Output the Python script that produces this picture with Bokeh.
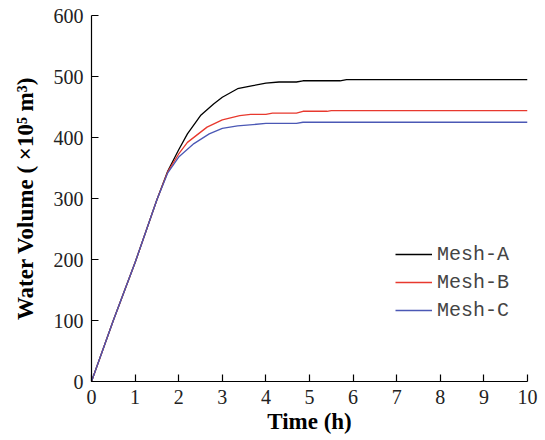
from bokeh.plotting import figure
from bokeh.models import Legend, LegendItem, FixedTicker
from bokeh.embed import file_html
from bokeh.resources import INLINE

# Data (time in h, volume in 1e5 m^3)
t_a = [0, 0.5, 1.0, 1.5, 1.75, 2.0, 2.2, 2.5, 2.8, 3.0, 3.35, 3.7, 4.0, 4.3, 4.7, 4.85, 5.7, 5.85, 10]
v_a = [0, 100, 195, 298, 345, 380, 406, 436, 455, 466, 480, 485, 489, 491, 491, 493, 493, 495, 495]

t_b = [0, 0.5, 1.0, 1.5, 1.75, 2.0, 2.2, 2.65, 3.0, 3.4, 3.65, 4.0, 4.15, 4.7, 4.85, 5.4, 5.5, 10]
v_b = [0, 100, 195, 298, 344, 373, 392, 417, 429, 436, 438, 438, 440, 440, 443, 443, 444, 444]

t_c = [0, 0.5, 1.0, 1.5, 1.75, 2.0, 2.35, 2.7, 3.0, 3.35, 4.0, 4.7, 4.85, 10]
v_c = [0, 100, 195, 298, 342, 368, 390, 406, 415, 419, 423, 423, 425, 425]

names = ["Mesh-A", "Mesh-B", "Mesh-C"]
colors = ["#000000", "#E8392E", "#4B58B5"]
x_ticks = list(range(0, 11))
y_ticks = [0, 100, 200, 300, 400, 500, 600]

p = figure(width=545, height=440, output_backend="svg", toolbar_location=None,
           x_range=(0, 10), y_range=(0, 600),
           min_border_left=91, min_border_right=18, min_border_top=15, min_border_bottom=59)
p.outline_line_color = None
p.grid.visible = False
p.background_fill_color = "white"

rs = []
for t, v, c in zip([t_a, t_b, t_c], [v_a, v_b, v_c], colors):
    rs.append(p.line(t, v, line_color=c, line_width=1.3))

for ax in (p.xaxis[0], p.yaxis[0]):
    ax.major_tick_in = 7
    ax.major_tick_out = 0
    ax.minor_tick_line_color = None
    ax.axis_line_color = "black"
    ax.axis_line_width = 1.2
    ax.major_tick_line_color = "black"
    ax.major_tick_line_width = 1.2
    ax.major_label_text_font = "Liberation Serif"
    ax.major_label_text_font_size = "20px"
    ax.major_label_text_color = "#222222"
    ax.axis_label_text_font = "Liberation Serif"
    ax.axis_label_text_font_style = "bold"
    ax.axis_label_text_font_size = "23px"
    ax.axis_label_text_color = "black"

p.xaxis.ticker = FixedTicker(ticks=x_ticks)
p.yaxis.ticker = FixedTicker(ticks=y_ticks)
p.xaxis.axis_label = "Time (h)"
p.yaxis.axis_label = "Water Volume ( ×10⁵ m³)"
p.xaxis.major_label_standoff = 8
p.yaxis.major_label_standoff = 8
p.xaxis.axis_label_standoff = 2
p.yaxis.axis_label_standoff = 13

legend = Legend(items=[LegendItem(label=n, renderers=[r]) for n, r in zip(names, rs)],
                location=(304, 57))
legend.border_line_color = None
legend.background_fill_alpha = 0
legend.label_text_font = "Liberation Mono"
legend.label_text_font_size = "20px"
legend.glyph_width = 37
legend.label_standoff = 5
legend.label_height = 28
legend.glyph_height = 28
legend.spacing = 0
legend.padding = 0
legend.margin = 0
p.add_layout(legend)

open("out.html", "w").write(file_html(p, INLINE))
